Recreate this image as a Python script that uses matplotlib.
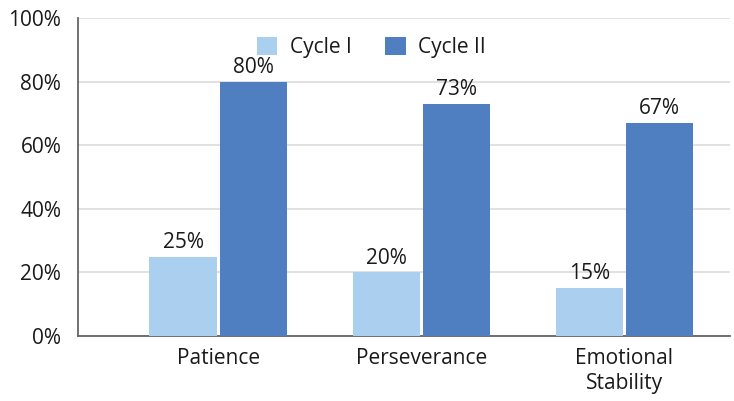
import numpy as np
import matplotlib.pyplot as plt

plt.rcParams['font.family'] = ['Open Sans', 'DejaVu Sans']

# categories and scores per cycle (in %)
categories = ['Patience', 'Perseverance', 'Emotional\nStability']
cycle1 = np.array([25, 20, 15])
cycle2 = np.array([80, 73, 67])

x = np.arange(len(categories))
w = 0.33
gap = 0.008
txt = '#1a1a1a'

fig = plt.figure(figsize=(7.34, 4.01), dpi=100)
ax = fig.add_axes([78 / 734, 65 / 401, 652 / 734, 318 / 401])

ax.bar(x - w / 2 - gap, cycle1, width=w, color='#abcfef', label='Cycle I', zorder=3)
ax.bar(x + w / 2 + gap, cycle2, width=w, color='#4f7fc1', label='Cycle II', zorder=3)

# value labels above the bars
for i in x:
    ax.text(x[i] - w / 2 - gap, cycle1[i] + 1.2, f'{cycle1[i]}%',
            ha='center', va='bottom', fontsize=15, color=txt)
    ax.text(x[i] + w / 2 + gap, cycle2[i] + 1.2, f'{cycle2[i]}%',
            ha='center', va='bottom', fontsize=15, color=txt)

ax.set_ylim(0, 100)
ax.set_xlim(-0.69, 2.52)
ax.set_yticks(np.arange(0, 101, 20))
ax.set_yticklabels([f'{v}%' for v in range(0, 101, 20)], fontsize=15, color=txt)
ax.set_xticks(x)
ax.set_xticklabels(categories, fontsize=15, color=txt, linespacing=1.2)
ax.tick_params(length=0, pad=9)
ax.tick_params(axis='y', pad=12)

ax.grid(axis='y', color='#dcdcdc', linewidth=1.2, zorder=0)
for s in ['top', 'right']:
    ax.spines[s].set_visible(False)
for s in ['left', 'bottom']:
    ax.spines[s].set_color('#666666')
    ax.spines[s].set_linewidth(1.3)

ax.legend(loc='upper center', bbox_to_anchor=(0.45, 1.0), ncol=2, frameon=False,
          fontsize=15, handlelength=1.0, handleheight=1.0, columnspacing=1.6,
          handletextpad=0.6, labelcolor=txt)

fig.savefig('out.png', dpi=100)
